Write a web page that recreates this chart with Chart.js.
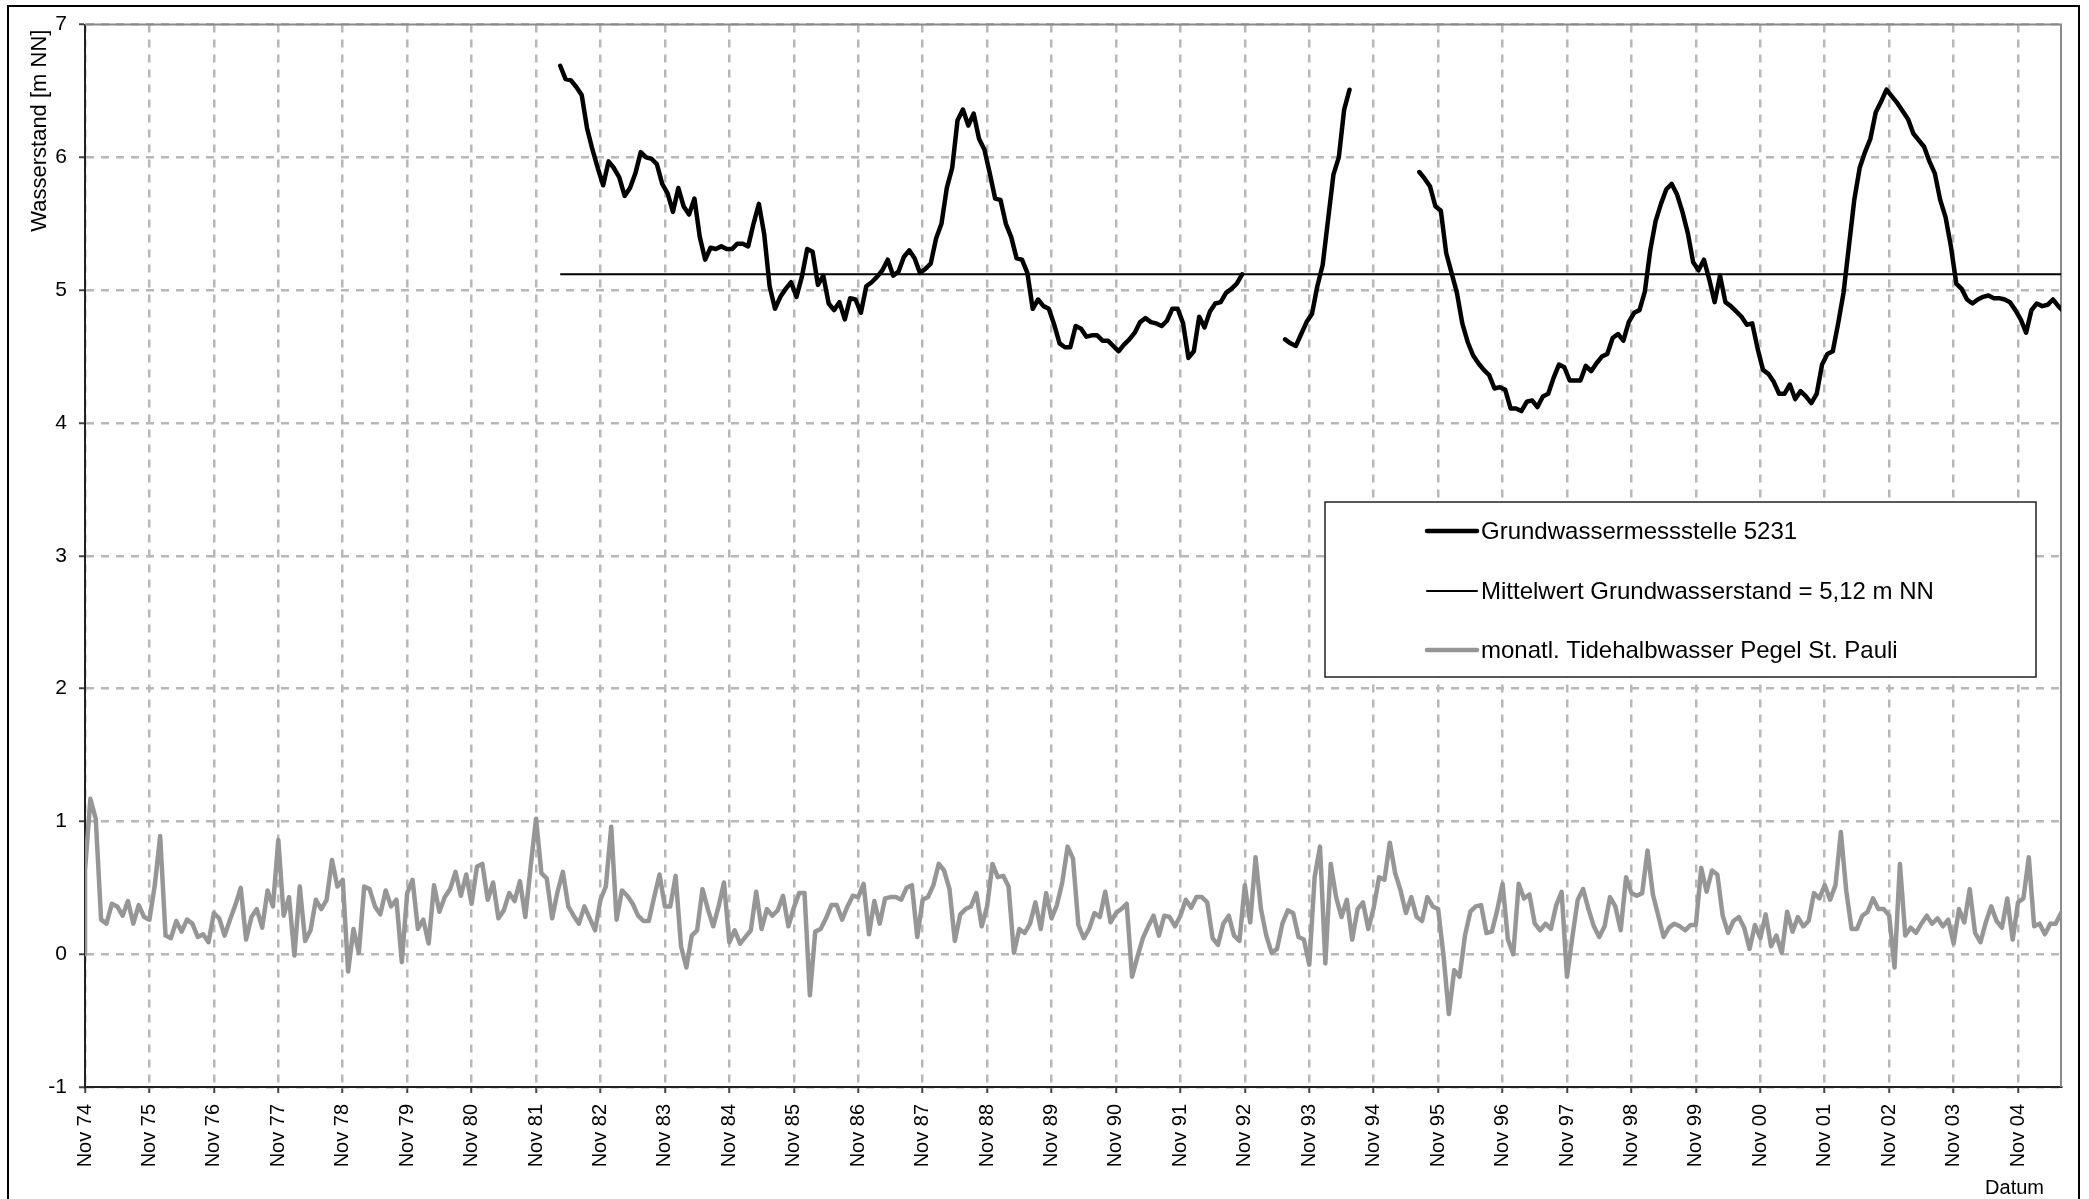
<!DOCTYPE html>
<html>
<head>
<meta charset="utf-8">
<script src="https://cdn.jsdelivr.net/npm/chart.js@4.4.1/dist/chart.umd.min.js"></script>
<style>
html,body{margin:0;padding:0;background:#fff;}
canvas{display:block;}
</style>
</head>
<body>
<canvas id="c" width="2089" height="1199"></canvas>
<script>
// ---- DATA (x = months since Nov 1974) ----
const tickLabels = ['Nov 74','Nov 75','Nov 76','Nov 77','Nov 78','Nov 79','Nov 80','Nov 81','Nov 82','Nov 83',
  'Nov 84','Nov 85','Nov 86','Nov 87','Nov 88','Nov 89','Nov 90','Nov 91','Nov 92','Nov 93',
  'Nov 94','Nov 95','Nov 96','Nov 97','Nov 98','Nov 99','Nov 00','Nov 01','Nov 02','Nov 03','Nov 04'];

// monthly Tidehalbwasser St. Pauli (first two readings both fall in Nov 74)
const tide = [0.00,
  0.63,1.17,1.02,0.26,0.23,0.38,0.36,0.29,0.40,0.23,0.37,0.28,
  0.26,0.52,0.89,0.14,0.12,0.25,0.17,0.26,0.23,0.13,0.15,0.09,
  0.31,0.27,0.14,0.26,0.37,0.50,0.11,0.28,0.34,0.20,0.48,0.36,
  0.86,0.29,0.43,-0.01,0.51,0.10,0.18,0.41,0.34,0.41,0.71,0.51,
  0.56,-0.13,0.19,0.01,0.51,0.49,0.36,0.30,0.48,0.36,0.41,-0.06,
  0.46,0.56,0.19,0.26,0.08,0.52,0.32,0.43,0.49,0.62,0.44,0.60,
  0.38,0.66,0.68,0.41,0.54,0.27,0.33,0.46,0.40,0.55,0.28,0.66,
  1.02,0.61,0.57,0.27,0.47,0.62,0.36,0.29,0.23,0.36,0.27,0.18,
  0.41,0.51,0.96,0.26,0.48,0.44,0.38,0.29,0.25,0.25,0.43,0.60,
  0.36,0.36,0.59,0.06,-0.10,0.14,0.18,0.49,0.34,0.21,0.36,0.54,
  0.09,0.18,0.08,0.13,0.18,0.47,0.19,0.34,0.29,0.33,0.44,0.21,
  0.35,0.46,0.46,-0.31,0.17,0.19,0.27,0.37,0.37,0.26,0.36,0.44,
  0.43,0.53,0.15,0.40,0.23,0.42,0.43,0.43,0.41,0.50,0.52,0.13,
  0.41,0.43,0.52,0.68,0.63,0.49,0.10,0.30,0.34,0.36,0.46,0.21,
  0.36,0.68,0.58,0.59,0.51,0.01,0.19,0.16,0.23,0.39,0.19,0.46,
  0.27,0.37,0.54,0.81,0.72,0.22,0.12,0.19,0.31,0.28,0.47,0.24,
  0.31,0.34,0.38,-0.17,-0.02,0.12,0.21,0.29,0.14,0.29,0.28,0.21,
  0.29,0.41,0.35,0.43,0.43,0.39,0.12,0.07,0.23,0.29,0.14,0.10,
  0.52,0.24,0.73,0.34,0.14,0.01,0.04,0.23,0.33,0.31,0.13,0.11,
  -0.08,0.58,0.81,-0.07,0.68,0.43,0.28,0.41,0.11,0.34,0.39,0.19,
  0.35,0.58,0.56,0.84,0.61,0.48,0.31,0.43,0.28,0.25,0.43,0.36,
  0.34,-0.01,-0.45,-0.12,-0.17,0.14,0.32,0.36,0.37,0.16,0.17,0.33,
  0.53,0.11,0.00,0.53,0.42,0.45,0.23,0.18,0.23,0.19,0.37,0.47,
  -0.17,0.13,0.41,0.49,0.34,0.21,0.13,0.21,0.43,0.36,0.18,0.58,
  0.46,0.44,0.46,0.78,0.45,0.29,0.13,0.20,0.23,0.21,0.18,0.22,
  0.22,0.65,0.47,0.63,0.60,0.29,0.16,0.25,0.28,0.20,0.04,0.22,
  0.12,0.30,0.06,0.14,0.01,0.32,0.17,0.28,0.21,0.25,0.46,0.42,
  0.52,0.41,0.52,0.92,0.48,0.19,0.19,0.29,0.32,0.42,0.34,0.34,
  0.29,-0.10,0.68,0.14,0.20,0.16,0.23,0.29,0.23,0.27,0.21,0.26,
  0.08,0.34,0.24,0.49,0.16,0.09,0.24,0.36,0.25,0.20,0.42,0.11,
  0.39,0.42,0.73,0.21,0.23,0.15,0.23,0.23,0.31];

// Grundwassermessstelle 5231, mid-month readings, three measuring periods
const gwSegmentStartMonths = [88, 223, 248];
const gwSeg1 = [6.69,6.59,6.58,6.53,6.47,6.22,6.06,5.92,5.79,5.97,5.92,5.85,
  5.71,5.77,5.88,6.04,6.00,5.99,5.95,5.80,5.73,5.59,5.77,5.63,
  5.57,5.69,5.40,5.23,5.32,5.31,5.33,5.31,5.31,5.35,5.35,5.33,
  5.50,5.65,5.42,5.03,4.86,4.95,5.01,5.06,4.95,5.10,5.31,5.29,
  5.04,5.11,4.90,4.85,4.91,4.78,4.94,4.93,4.83,5.03,5.06,5.10,
  5.15,5.23,5.11,5.14,5.25,5.30,5.24,5.13,5.16,5.20,5.39,5.50,
  5.77,5.92,6.28,6.36,6.24,6.33,6.14,6.06,5.88,5.69,5.68,5.50,
  5.40,5.24,5.23,5.13,4.86,4.93,4.88,4.86,4.74,4.60,4.57,4.57,
  4.73,4.71,4.65,4.66,4.66,4.62,4.62,4.58,4.54,4.59,4.63,4.68,
  4.76,4.79,4.76,4.75,4.73,4.77,4.86,4.86,4.75,4.49,4.54,4.80,
  4.72,4.84,4.90,4.91,4.98,5.01,5.05,5.12];
const gwSeg2 = [4.63,4.60,4.58,4.67,4.76,4.82,5.03,5.19,5.53,5.87,6.00,6.36,6.51];
const gwSeg3 = [5.89,5.84,5.78,5.63,5.60,5.28,5.13,4.98,4.75,4.61,4.51,4.45,
  4.40,4.36,4.26,4.27,4.25,4.11,4.11,4.09,4.16,4.17,4.12,4.20,
  4.22,4.34,4.44,4.42,4.32,4.32,4.32,4.43,4.39,4.45,4.50,4.52,
  4.64,4.67,4.62,4.76,4.83,4.85,4.99,5.30,5.52,5.65,5.76,5.80,
  5.72,5.59,5.43,5.21,5.15,5.23,5.08,4.91,5.11,4.91,4.88,4.84,
  4.80,4.74,4.75,4.56,4.40,4.37,4.31,4.22,4.22,4.29,4.18,4.24,
  4.20,4.15,4.22,4.44,4.52,4.54,4.75,4.98,5.33,5.68,5.92,6.04,
  6.14,6.34,6.42,6.51,6.46,6.41,6.35,6.29,6.18,6.13,6.08,5.97,
  5.88,5.68,5.55,5.33,5.05,5.01,4.93,4.90,4.93,4.95,4.96,4.94,
  4.94,4.93,4.91,4.85,4.78,4.68,4.85,4.90,4.88,4.89,4.93,4.88,
  4.84];
const meanGW = 5.12;

const seriesNames = ['Grundwassermessstelle 5231',
  'Mittelwert Grundwasserstand = 5,12 m NN',
  'monatl. Tidehalbwasser Pegel St. Pauli'];
const yAxisTitle = 'Wasserstand [m NN]';
const xAxisTitle = 'Datum';

// ---- build datasets from the arrays ----
const monthsPerYear = 12;
const lastMonth = tide.length - 2;
const tideData = tide.map((v, i) => ({x: Math.max(0, i - 1), y: v}));
const gwData = [];
[gwSeg1, gwSeg2, gwSeg3].forEach((seg, k) => {
  const s = gwSegmentStartMonths[k];
  if (k > 0) gwData.push({x: s, y: null});
  seg.forEach((v, i) => gwData.push({x: s + i + 0.5, y: v}));
});
const meanData = [{x: gwSegmentStartMonths[0] + 0.5, y: meanGW}, {x: lastMonth, y: meanGW}];

const FONT = "'Liberation Sans', Arial, Helvetica, sans-serif";

const framePlugin = {
  id: 'frame',
  beforeDraw(chart) {
    const ctx = chart.ctx;
    ctx.save(); ctx.fillStyle = '#ffffff'; ctx.fillRect(0, 0, chart.width, chart.height); ctx.restore();
  },
  beforeDatasetsDraw(chart) {
    const {ctx, chartArea: a} = chart;
    ctx.save();
    ctx.strokeStyle = '#8a8a8a'; ctx.lineWidth = 2;
    ctx.beginPath(); ctx.moveTo(a.left, a.top); ctx.lineTo(a.right, a.top); ctx.lineTo(a.right, a.bottom); ctx.stroke();
    ctx.restore();
  },
  afterDraw(chart) {
    const ctx = chart.ctx;
    const a = chart.chartArea;
    ctx.save();
    // outer frame
    ctx.strokeStyle = '#000'; ctx.lineWidth = 2;
    ctx.strokeRect(8, 6, 2071, 1210);
    // axis titles
    ctx.fillStyle = '#000'; ctx.textBaseline = 'middle';
    ctx.font = '22px ' + FONT;
    ctx.save(); ctx.translate(40, a.top + 5); ctx.rotate(-Math.PI / 2);
    ctx.textAlign = 'right'; ctx.fillText(yAxisTitle, 0, 0); ctx.restore();
    ctx.font = '20px ' + FONT; ctx.textAlign = 'right';
    ctx.fillText(xAxisTitle, a.right - 17, 1188);
    // legend box
    const L = 1325, T = 502, R = 2036, B = 677;
    ctx.fillStyle = '#fff'; ctx.fillRect(L, T, R - L, B - T);
    ctx.strokeStyle = '#222'; ctx.lineWidth = 1.5; ctx.strokeRect(L, T, R - L, B - T);
    const rows = [531, 591, 650];
    ctx.font = '24px ' + FONT; ctx.textBaseline = 'middle'; ctx.textAlign = 'left';
    chart.data.datasets.forEach((ds, i) => {
      ctx.strokeStyle = ds.borderColor; ctx.lineWidth = ds.borderWidth; ctx.lineCap = 'round';
      ctx.beginPath(); ctx.moveTo(1427, rows[i]); ctx.lineTo(1477, rows[i]); ctx.stroke();
      ctx.fillStyle = '#000';
      ctx.fillText(ds.label, 1481, rows[i] + 1);
    });
    ctx.restore();
  }
};

new Chart(document.getElementById('c'), {
  type: 'line',
  data: {
    datasets: [
      {label: seriesNames[0], data: gwData, borderColor: '#000000', borderWidth: 4.5, pointRadius: 0,
       tension: 0, spanGaps: false, borderJoinStyle: 'round', borderCapStyle: 'round', clip: 0},
      {label: seriesNames[1], data: meanData, borderColor: '#000000', borderWidth: 2, pointRadius: 0, tension: 0},
      {label: seriesNames[2], data: tideData, borderColor: '#969696', borderWidth: 4.5, pointRadius: 0,
       tension: 0, borderJoinStyle: 'round', borderCapStyle: 'round'}
    ]
  },
  options: {
    responsive: false,
    animation: false,
    devicePixelRatio: 1,
    layout: {padding: {left: 0, top: 24, right: 28, bottom: 0}},
    plugins: {legend: {display: false}, tooltip: {enabled: false}},
    scales: {
      x: {
        type: 'linear', min: 0, max: lastMonth,
        afterBuildTicks: (s) => { s.ticks = tickLabels.map((_, i) => ({value: i * monthsPerYear})); },
        afterFit: (s) => { s.height = 112; },
        ticks: {
          autoSkip: false, maxRotation: 90, minRotation: 90, padding: 11, color: '#000',
          font: {family: FONT, size: 20},
          callback: (v) => tickLabels[Math.round(v / monthsPerYear)] || ''
        },
        grid: {color: '#b8b8b8', lineWidth: 2.5, tickLength: 6, tickColor: '#444', tickWidth: 2, tickBorderDash: []},
        border: {display: true, color: '#222', width: 2, dash: [8, 7]},
        title: {display: false}
      },
      y: {
        type: 'linear', min: -1, max: 7,
        afterFit: (s) => { s.width = 85; },
        ticks: {stepSize: 1, padding: 12, color: '#000', font: {family: FONT, size: 21}},
        grid: {color: '#b8b8b8', lineWidth: 2.5, tickLength: 6, tickColor: '#444', tickWidth: 2, tickBorderDash: []},
        border: {display: true, color: '#222', width: 2, dash: [8, 7]},
        title: {display: false}
      }
    }
  },
  plugins: [framePlugin]
});
</script>
</body>
</html>
